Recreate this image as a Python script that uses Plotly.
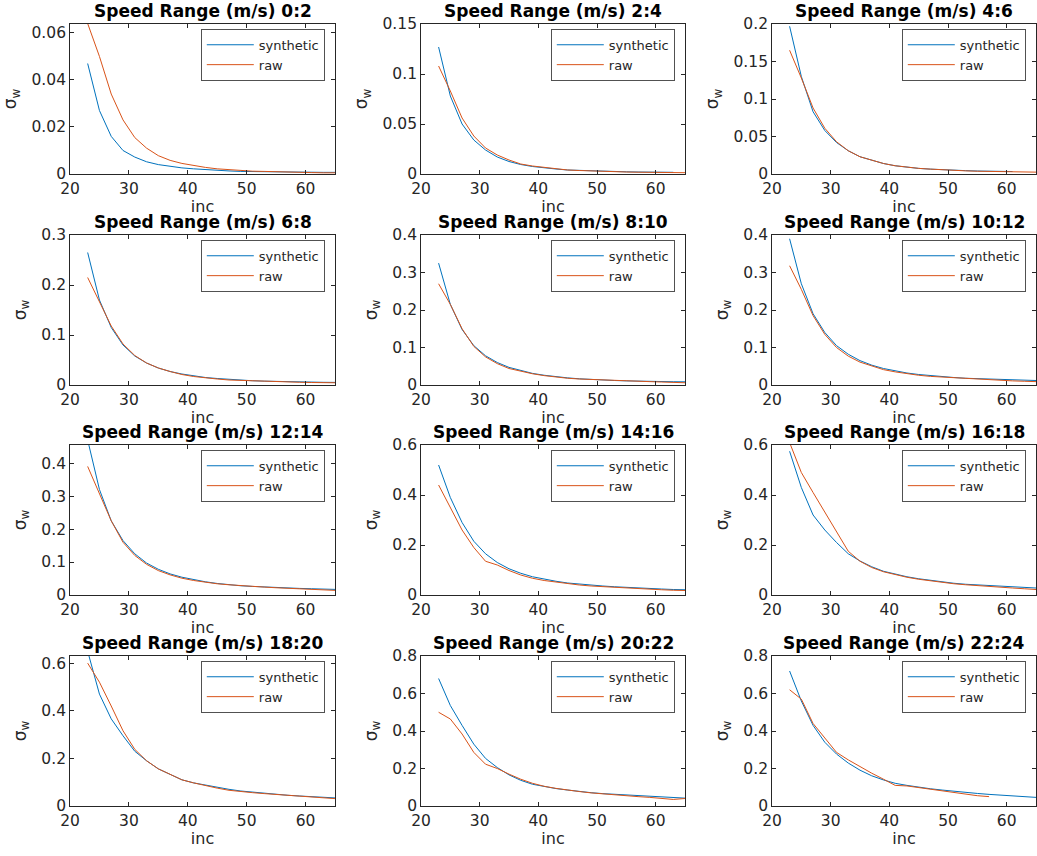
import plotly.graph_objects as go

# ---------------- data ----------------
INC = list(range(23, 66, 2))  # incidence angle samples 23..65

TITLES = ["Speed Range (m/s) 0:2", "Speed Range (m/s) 2:4", "Speed Range (m/s) 4:6",
          "Speed Range (m/s) 6:8", "Speed Range (m/s) 8:10", "Speed Range (m/s) 10:12",
          "Speed Range (m/s) 12:14", "Speed Range (m/s) 14:16", "Speed Range (m/s) 16:18",
          "Speed Range (m/s) 18:20", "Speed Range (m/s) 20:22", "Speed Range (m/s) 22:24"]

SYN_0_2 = [0.047, 0.027, 0.016, 0.010, 0.0072, 0.0052, 0.0040, 0.0032, 0.0026, 0.0022, 0.0018,
           0.0015, 0.0013, 0.0011, 0.0010, 0.0009, 0.0008, 0.0008, 0.0007, 0.0007, 0.0007, 0.0007]
RAW_0_2 = [0.064, 0.050, 0.034, 0.023, 0.0155, 0.011, 0.0078, 0.0058, 0.0045, 0.0035, 0.0028,
           0.0022, 0.0018, 0.0015, 0.0012, 0.0011, 0.0009, 0.0008, 0.0007, 0.0006, 0.0005, 0.0005]

SYN_2_4 = [0.127, 0.078, 0.050, 0.034, 0.024, 0.017, 0.0125, 0.0095, 0.0075, 0.006, 0.005,
           0.004, 0.0035, 0.003, 0.0027, 0.0024, 0.0022, 0.002, 0.0019, 0.0018, 0.0017]
RAW_2_4 = [0.108, 0.083, 0.056, 0.038, 0.026, 0.019, 0.014, 0.010, 0.008, 0.0065, 0.005,
           0.004, 0.0035, 0.003, 0.0025, 0.0022, 0.002, 0.0018, 0.0016, 0.0015, 0.0014, 0.0013]

SYN_4_6 = [0.197, 0.130, 0.083, 0.058, 0.042, 0.031, 0.023, 0.018, 0.014, 0.011, 0.009,
           0.0075, 0.0065, 0.0055, 0.005, 0.0045, 0.004, 0.0037, 0.0035, 0.0033]
RAW_4_6 = [0.165, 0.128, 0.088, 0.061, 0.043, 0.031, 0.023, 0.018, 0.014, 0.011, 0.009,
           0.0075, 0.0065, 0.0055, 0.0048, 0.0042, 0.0037, 0.0033, 0.003, 0.0028, 0.0026, 0.0025]

SYN_6_8 = [0.265, 0.170, 0.115, 0.080, 0.058, 0.044, 0.034, 0.027, 0.022, 0.018, 0.015,
           0.013, 0.011, 0.0095, 0.0085, 0.0077, 0.007, 0.0065, 0.006, 0.0057, 0.0054, 0.0052]
RAW_6_8 = [0.215, 0.165, 0.118, 0.082, 0.059, 0.044, 0.034, 0.027, 0.021, 0.017, 0.014,
           0.012, 0.010, 0.009, 0.008, 0.0072, 0.0065, 0.006, 0.0055, 0.005, 0.0047, 0.0045]

SYN_8_10 = [0.325, 0.215, 0.148, 0.105, 0.078, 0.060, 0.047, 0.038, 0.031, 0.026, 0.022,
            0.019, 0.0165, 0.0145, 0.013, 0.012, 0.011, 0.010, 0.0095, 0.009, 0.0087, 0.0085]
RAW_8_10 = [0.270, 0.215, 0.150, 0.103, 0.075, 0.057, 0.044, 0.036, 0.030, 0.025, 0.021,
            0.018, 0.016, 0.0145, 0.013, 0.012, 0.011, 0.010, 0.009, 0.008, 0.007, 0.006]

SYN_10_12 = [0.390, 0.270, 0.190, 0.140, 0.105, 0.082, 0.065, 0.053, 0.044, 0.037, 0.032,
             0.028, 0.025, 0.022, 0.020, 0.018, 0.017, 0.016, 0.015, 0.014, 0.013, 0.012]
RAW_10_12 = [0.318, 0.255, 0.185, 0.135, 0.100, 0.077, 0.061, 0.050, 0.041, 0.035, 0.030,
             0.026, 0.023, 0.021, 0.019, 0.017, 0.015, 0.013, 0.012, 0.011, 0.010, 0.009]

SYN_12_14 = [0.470, 0.320, 0.225, 0.165, 0.125, 0.097, 0.078, 0.064, 0.054, 0.046, 0.040,
             0.035, 0.031, 0.028, 0.026, 0.024, 0.022, 0.021, 0.020, 0.019, 0.018, 0.017]
RAW_12_14 = [0.390, 0.310, 0.225, 0.160, 0.120, 0.093, 0.074, 0.061, 0.051, 0.044, 0.038,
             0.034, 0.031, 0.028, 0.026, 0.024, 0.022, 0.020, 0.018, 0.016, 0.015, 0.014]

SYN_14_16 = [0.520, 0.390, 0.290, 0.215, 0.165, 0.130, 0.105, 0.087, 0.073, 0.063, 0.055,
             0.048, 0.043, 0.039, 0.036, 0.033, 0.030, 0.028, 0.026, 0.024, 0.022, 0.021]
RAW_14_16 = [0.440, 0.350, 0.260, 0.190, 0.135, 0.120, 0.098, 0.080, 0.067, 0.058, 0.051,
             0.045, 0.040, 0.036, 0.033, 0.030, 0.027, 0.025, 0.023, 0.021, 0.019, 0.018]

SYN_16_18 = [0.575, 0.430, 0.320, 0.260, 0.210, 0.165, 0.136, 0.113, 0.095, 0.083, 0.073,
             0.065, 0.058, 0.052, 0.047, 0.043, 0.040, 0.037, 0.034, 0.032, 0.030, 0.028]
RAW_16_18 = [0.610, 0.490, 0.410, 0.330, 0.250, 0.175, 0.135, 0.110, 0.093, 0.081, 0.071,
             0.063, 0.056, 0.050, 0.045, 0.041, 0.037, 0.034, 0.031, 0.028, 0.025, 0.022]

SYN_18_20 = [0.650, 0.470, 0.366, 0.295, 0.230, 0.190, 0.156, 0.132, 0.110, 0.097, 0.087,
             0.078, 0.070, 0.063, 0.058, 0.053, 0.049, 0.045, 0.042, 0.039, 0.036, 0.034]
RAW_18_20 = [0.600, 0.520, 0.420, 0.316, 0.238, 0.190, 0.156, 0.132, 0.110, 0.097, 0.085,
             0.075, 0.066, 0.060, 0.056, 0.052, 0.048, 0.045, 0.041, 0.037, 0.034, 0.031]

SYN_20_22 = [0.680, 0.536, 0.430, 0.330, 0.254, 0.205, 0.166, 0.137, 0.116, 0.103, 0.093,
             0.085, 0.077, 0.071, 0.066, 0.062, 0.058, 0.054, 0.050, 0.047, 0.044, 0.042]
RAW_20_22 = [0.500, 0.464, 0.384, 0.286, 0.223, 0.200, 0.170, 0.143, 0.121, 0.105, 0.094,
             0.084, 0.077, 0.070, 0.064, 0.059, 0.054, 0.050, 0.046, 0.042, 0.035, 0.040]

SYN_22_24 = [0.720, 0.560, 0.430, 0.340, 0.277, 0.229, 0.191, 0.161, 0.139, 0.121, 0.110,
             0.100, 0.092, 0.085, 0.078, 0.072, 0.067, 0.062, 0.058, 0.054, 0.050, 0.046]
RAW_22_24 = [0.620, 0.570, 0.440, 0.366, 0.286, 0.246, 0.209, 0.175, 0.143, 0.110, 0.107,
             0.098, 0.090, 0.082, 0.072, 0.062, 0.055, 0.050]

SYNTHETIC = [SYN_0_2, SYN_2_4, SYN_4_6, SYN_6_8, SYN_8_10, SYN_10_12,
             SYN_12_14, SYN_14_16, SYN_16_18, SYN_18_20, SYN_20_22, SYN_22_24]
RAW = [RAW_0_2, RAW_2_4, RAW_4_6, RAW_6_8, RAW_8_10, RAW_10_12,
       RAW_12_14, RAW_14_16, RAW_16_18, RAW_18_20, RAW_20_22, RAW_22_24]

Y_MAX = [0.0638, 0.15, 0.2, 0.3, 0.4, 0.4, 0.455, 0.6, 0.6, 0.63, 0.8, 0.8]
Y_DTICK = [0.02, 0.05, 0.05, 0.1, 0.1, 0.1, 0.1, 0.2, 0.2, 0.2, 0.2, 0.2]

# ---------------- layout geometry (pixels) ----------------
W, H = 1037, 856
COLS = [(70, 335), (421, 685), (772, 1036)]
ROWS = [(24, 174), (235, 385), (445, 595), (656, 806)]

BLUE = "#0072BD"
ORANGE = "#D95319"
AX = "#262626"
FONT = "DejaVu Sans"

fig = go.Figure()
layout = dict(
    width=W, height=H, margin=dict(l=0, r=0, t=0, b=0, autoexpand=False),
    paper_bgcolor="white", plot_bgcolor="white",
    font=dict(family=FONT, color=AX), annotations=[],
)

for i in range(12):
    r, c = divmod(i, 3)
    n = "" if i == 0 else str(i + 1)
    x0, x1 = COLS[c]
    y0, y1 = ROWS[r]
    leg = "legend" + n
    syn = SYNTHETIC[i]
    raw = RAW[i]
    fig.add_trace(go.Scatter(x=INC[:len(syn)], y=syn, mode="lines", name="synthetic",
                             line=dict(color=BLUE, width=1), xaxis="x" + n, yaxis="y" + n,
                             legend=leg))
    fig.add_trace(go.Scatter(x=INC[:len(raw)], y=raw, mode="lines", name="raw",
                             line=dict(color=ORANGE, width=1), xaxis="x" + n, yaxis="y" + n,
                             legend=leg))
    common = dict(showline=True, linecolor=AX, linewidth=0.8, mirror="ticks",
                  ticks="inside", ticklen=4, tickwidth=0.8, tickcolor=AX,
                  showgrid=False, zeroline=False, automargin=False,
                  tickfont=dict(family=FONT, size=15.5, color=AX))
    layout["xaxis" + n] = dict(common, domain=[x0 / W, x1 / W], anchor="y" + n,
                               range=[20, 65], tickmode="linear", tick0=20, dtick=10,
                               title=dict(text="inc", font=dict(family=FONT, size=16, color=AX),
                                          standoff=4))
    layout["yaxis" + n] = dict(common, domain=[1 - y1 / H, 1 - y0 / H], anchor="x" + n,
                               range=[0, Y_MAX[i]], tickmode="linear", tick0=0, dtick=Y_DTICK[i],
                               title=dict(text="σ<sub>w</sub>", font=dict(family=FONT, size=17, color=AX),
                                          standoff=10))
    layout[leg] = dict(x=(x1 - 10) / W, y=1 - (y0 + 5) / H, xanchor="right", yanchor="top",
                       bgcolor="white", bordercolor=AX, borderwidth=0.8,
                       font=dict(family=FONT, size=13, color=AX), itemwidth=47,
                       tracegroupgap=0)
    layout["annotations"].append(dict(
        text=TITLES[i], x=(x0 + x1) / 2 / W, y=1 - (y0 - 1) / H, xref="paper", yref="paper",
        xanchor="center", yanchor="bottom", showarrow=False,
        font=dict(family=FONT, size=17, color="black", weight="bold")))

fig.update_layout(**layout)
fig.write_html("out.html",
               post_script="document.body.style.margin='0px';document.body.style.overflow='hidden';")
